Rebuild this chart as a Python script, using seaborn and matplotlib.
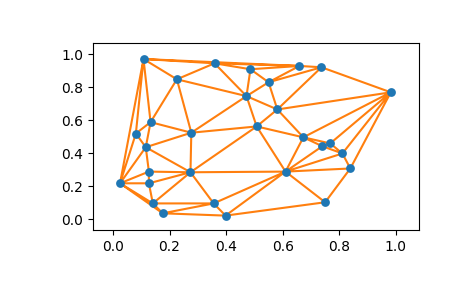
import matplotlib
matplotlib.use("Agg")
import matplotlib.pyplot as plt
import matplotlib.tri as mtri
import seaborn as sns
import numpy as np
import pandas as pd

x = [0.108, 0.359, 0.486, 0.226, 0.472, 0.133, 0.081, 0.277, 0.508, 0.659,
     0.737, 0.550, 0.982, 0.581, 0.673, 0.740, 0.768, 0.811, 0.839, 0.610,
     0.750, 0.116, 0.274, 0.025, 0.127, 0.127, 0.141, 0.176, 0.356, 0.398]
y = [0.971, 0.945, 0.909, 0.848, 0.746, 0.588, 0.519, 0.524, 0.562, 0.929,
     0.921, 0.830, 0.769, 0.665, 0.496, 0.442, 0.459, 0.398, 0.307, 0.288,
     0.102, 0.436, 0.284, 0.217, 0.288, 0.217, 0.095, 0.035, 0.095, 0.021]

df = pd.DataFrame({"x": x, "y": y})

fig = plt.figure(figsize=(4.65, 2.88), dpi=100)
ax = fig.add_axes([0.2, 0.2, 0.7, 0.65])

tri = mtri.Triangulation(np.array(x), np.array(y))
ax.triplot(tri, color="#ff7f0e", lw=1.5, zorder=2)
sns.scatterplot(data=df, x="x", y="y", ax=ax, color="#1f77b4", s=40,
                linewidth=0, zorder=3)

ax.set_xlim(-0.0705, 1.080)
ax.set_ylim(-0.0687, 1.067)
ax.set_xticks([0.0, 0.2, 0.4, 0.6, 0.8, 1.0])
ax.set_yticks([0.0, 0.2, 0.4, 0.6, 0.8, 1.0])
ax.set_xlabel("")
ax.set_ylabel("")

fig.savefig("out.png", dpi=100)
